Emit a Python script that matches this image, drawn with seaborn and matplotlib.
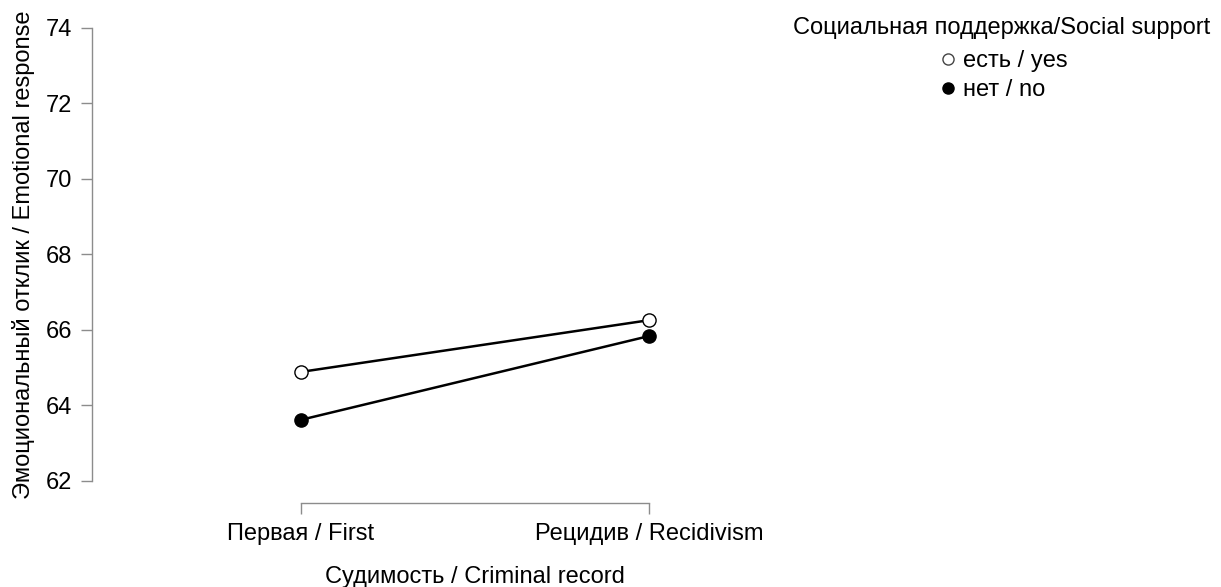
import matplotlib
matplotlib.use("Agg")
import matplotlib.pyplot as plt
from matplotlib.lines import Line2D
import seaborn as sns
import pandas as pd

categories = ["Первая / First", "Рецидив / Recidivism"]
support_levels = ["есть / yes", "нет / no"]
values_yes = [64.89, 66.26]
values_no = [63.62, 65.84]
y_ticks = [62, 64, 66, 68, 70, 72, 74]
legend_title = "Социальная поддержка/Social support"

df = pd.DataFrame({
    "record": categories * 2,
    "support": [support_levels[0]] * 2 + [support_levels[1]] * 2,
    "value": values_yes + values_no,
})

sns.set_theme(style="ticks")
plt.rcParams["font.family"] = ["Liberation Sans", "DejaVu Sans"]
plt.rcParams["text.color"] = "black"
plt.rcParams["axes.labelcolor"] = "black"

FS = 17
fig = plt.figure(figsize=(12.21, 5.87), dpi=100)
ax = fig.add_axes([92 / 1221, 1 - 481 / 587, 766 / 1221, 453 / 587])

sns.pointplot(data=df, x="record", y="value", hue="support", hue_order=support_levels,
              order=categories, palette={support_levels[0]: "black", support_levels[1]: "black"},
              markers=["o", "o"], linestyles=["-", "-"], errorbar=None, dodge=False,
              ax=ax, legend=False)

face = {0: "white", 1: "black"}
lines = [l for l in ax.lines if len(l.get_xdata()) == 2]
for i, l in enumerate(lines):
    l.set_markerfacecolor(face[i % 2])
    l.set_markeredgecolor("black")
    l.set_markersize(9.5)
    l.set_markeredgewidth(1.0)
    l.set_linewidth(1.8)
    l.set_color("black")
    l.set_zorder(3 + i)

ax.set_xlim(-0.6, 1.6)
ax.set_ylim(62, 74)
ax.set_yticks(y_ticks)
ax.set_yticklabels([str(t) for t in y_ticks])

for s in ["top", "right"]:
    ax.spines[s].set_visible(False)
ax.spines["left"].set_position(("outward", 0))
ax.spines["bottom"].set_position(("outward", 16))
ax.spines["bottom"].set_bounds(0, 1)
ax.spines["left"].set_bounds(62, 74)
for s in ["left", "bottom"]:
    ax.spines[s].set_color("#8c8c8c")
    ax.spines[s].set_linewidth(1.0)
ax.tick_params(axis="both", colors="#8c8c8c", labelcolor="black", labelsize=FS,
               length=8, width=1.0, direction="out")
ax.tick_params(axis="y", pad=6)
ax.tick_params(axis="x", pad=6)

ax.set_xlabel("Судимость / Criminal record", fontsize=FS, labelpad=15, color="black")
ax.set_ylabel("Эмоциональный отклик / Emotional response", fontsize=FS, labelpad=8,
              color="black")

fig.text(1210 / 1221, 1 - 28 / 587, legend_title, ha="right", va="center", fontsize=FS,
         color="black")

handles = [
    Line2D([], [], linestyle="none", marker="o", markerfacecolor="white",
           markeredgecolor="#444444", markersize=8, markeredgewidth=1.0),
    Line2D([], [], linestyle="none", marker="o", markerfacecolor="black",
           markeredgecolor="black", markersize=8, markeredgewidth=1.0),
]
leg = fig.legend(handles, support_levels,
                 loc="upper center", bbox_to_anchor=(1004 / 1221, 1 - 50 / 587), frameon=False,
                 fontsize=FS, handlelength=0.6, handletextpad=0.35,
                 labelspacing=0.3, borderpad=0, borderaxespad=0)
for t in leg.get_texts():
    t.set_color("black")

fig.savefig("out.png", dpi=100, facecolor="white")
